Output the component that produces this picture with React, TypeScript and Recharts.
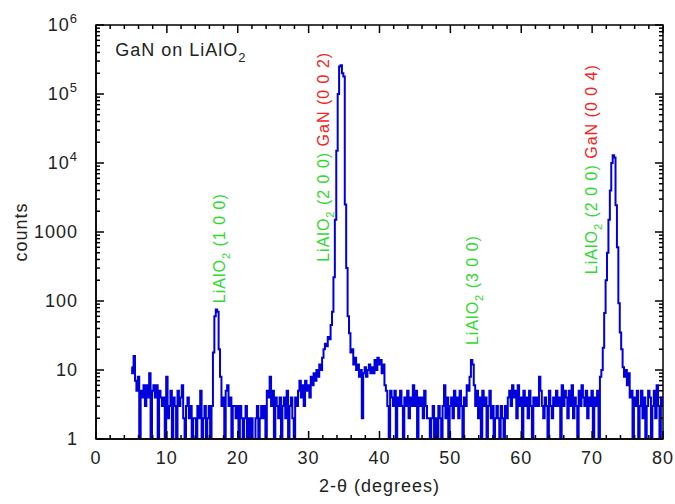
import React from "react";
import { LineChart, Line, XAxis, YAxis, ReferenceDot, ReferenceArea } from "recharts";

if (typeof document !== "undefined") document.body.style.margin = "0";

// scan grid (degrees) and measured counts, one row per 2 degrees
const startAngle = 5;
const angleStep = 0.2;
const counts = [
  11, 9, 16, 7, 5, 8, 1, 5, 4, 6,
  3, 6, 4, 9, 1, 5, 6, 4, 6, 1,
  5, 4, 3, 4, 1, 8, 2, 3, 5, 1,
  4, 3, 1, 5, 3, 4, 6, 2, 1, 3,
  4, 2, 3, 1, 2, 2, 1, 3, 2, 5,
  1, 2, 3, 1, 2, 3, 1, 3, 18, 60,
  75, 70, 20, 8, 3, 4, 1, 5, 6, 3,
  4, 1, 3, 3, 2, 3, 1, 3, 2, 1,
  2, 3, 1, 2, 1, 2, 1, 1, 2, 3,
  1, 2, 3, 2, 3, 1, 5, 4, 8, 3,
  5, 1, 4, 3, 2, 4, 1, 3, 4, 2,
  5, 1, 3, 4, 2, 1, 4, 3, 5, 7,
  4, 6, 3, 7, 5, 6, 4, 8, 6, 9,
  7, 10, 8, 12, 10, 15, 20, 24, 22, 30,
  28, 45, 70, 220, 1500, 15000, 100000, 250000, 260000, 200000,
  180000, 2500, 300, 60, 34, 18, 20, 12, 15, 10,
  12, 8, 10, 2, 9, 11, 8, 10, 12, 9,
  11, 9, 14, 10, 15, 12, 14, 9, 12, 6,
  5, 3, 1, 5, 4, 3, 5, 1, 4, 3,
  5, 3, 1, 4, 3, 5, 2, 4, 3, 6,
  3, 5, 1, 4, 3, 4, 2, 5, 3, 2,
  2, 1, 2, 3, 1, 2, 1, 3, 2, 1,
  3, 6, 2, 4, 1, 3, 4, 2, 5, 3,
  4, 2, 5, 3, 1, 4, 3, 6, 5, 8,
  14, 12, 6, 3, 5, 2, 4, 1, 5, 3,
  4, 1, 3, 5, 2, 3, 1, 2, 3, 2,
  1, 3, 2, 1, 3, 2, 4, 5, 3, 6,
  4, 5, 2, 6, 3, 4, 1, 5, 3, 4,
  2, 5, 3, 1, 4, 3, 4, 3, 8, 5,
  3, 2, 4, 3, 1, 5, 3, 2, 4, 3,
  5, 3, 4, 1, 6, 3, 5, 4, 2, 5,
  3, 6, 2, 4, 3, 1, 5, 3, 6, 4,
  3, 5, 2, 4, 3, 5, 1, 4, 3, 5,
  1, 8, 10, 21, 67, 200, 500, 1500, 4000, 10000,
  13000, 12000, 2450, 600, 93, 35, 20, 11, 8, 10,
  6, 9, 4, 5, 1, 4, 3, 5, 1, 3,
  5, 2, 4, 1, 3, 5, 4, 1, 3, 5,
  2, 6, 3, 1, 4, 3,
];

const xTicks = [0, 2, 4, 6, 8, 10, 12, 14, 16, 18, 20, 22, 24, 26, 28, 30, 32, 34, 36, 38,
  40, 42, 44, 46, 48, 50, 52, 54, 56, 58, 60, 62, 64, 66, 68, 70, 72, 74, 76, 78, 80];
const yDecades = [1, 10, 100, 1000, 10000, 100000, 1000000];
const yMinor = [2, 3, 4, 5, 6, 7, 8, 9];

const GREEN = "#2edb2e";
const RED = "#ff2020";

// peak annotations: anchor (angle, counts) is where the rotated text starts
const peakAngles = [18.2, 32.9, 53.9, 70.7];
const peakCounts = [93, 370, 23, 245];
const peakTexts = [
  [["LiAlO", GREEN, false], ["2", GREEN, true], [" (1 0 0)", GREEN, false]],
  [["LiAlO", GREEN, false], ["2", GREEN, true], [" (2 0 0) ", GREEN, false], ["GaN (0 0 2)", RED, false]],
  [["LiAlO", GREEN, false], ["2", GREEN, true], [" (3 0 0)", GREEN, false]],
  [["LiAlO", GREEN, false], ["2", GREEN, true], [" (2 0 0) ", GREEN, false], ["GaN (0 0 4)", RED, false]],
];

const W = 675;
const H = 504;
const M = { top: 25, right: 12, left: 0, bottom: 0 };
const Y_AXIS_W = 96;
const X_AXIS_H = 65;
const PLOT_W = W - M.left - M.right - Y_AXIS_W;
const PLOT_H = H - M.top - M.bottom - X_AXIS_H;
const FONT = "'Liberation Sans', Arial, sans-serif";

const data = counts.map((c, i) => ({ angle: +(startAngle + i * angleStep).toFixed(1), counts: c }));
const yTicks: number[] = [];
yDecades.forEach((d, i) => {
  yTicks.push(d);
  if (i < yDecades.length - 1) yMinor.forEach((m) => yTicks.push(d * m));
});

function XTick(props: any) {
  const { x, y, payload } = props;
  const v = payload.value;
  const major = v % 10 === 0;
  const len = major ? 8 : 4;
  return (
    <g>
      <line x1={x} y1={y} x2={x} y2={y - len} stroke="#000" strokeWidth={1.5} />
      <line x1={x} y1={y - PLOT_H} x2={x} y2={y - PLOT_H + len} stroke="#000" strokeWidth={1.5} />
      {major && (
        <text x={x} y={y + 25} textAnchor="middle" fontSize={18} letterSpacing={1} fontFamily={FONT} fill="#222">
          {v}
        </text>
      )}
    </g>
  );
}

function YTick(props: any) {
  const { x, y, payload } = props;
  const v = payload.value;
  const exp = Math.round(Math.log10(v));
  const major = Math.abs(Math.log10(v) - exp) < 1e-9;
  const len = major ? 8 : 4;
  let label: React.ReactNode = null;
  if (major) {
    label = exp < 4 ? (
      <text x={x - 18} y={y} dy="0.35em" textAnchor="end" fontSize={18} letterSpacing={1} fontFamily={FONT} fill="#222">
        {v}
      </text>
    ) : (
      <text x={x - 18} y={y} dy="0.35em" textAnchor="end" fontSize={18} letterSpacing={1} fontFamily={FONT} fill="#222">
        <tspan>10</tspan>
        <tspan dy={-8} fontSize={13}>{exp}</tspan>
      </text>
    );
  }
  return (
    <g>
      <line x1={x} y1={y} x2={x + len} y2={y} stroke="#000" strokeWidth={1.5} />
      <line x1={x + PLOT_W} y1={y} x2={x + PLOT_W - len} y2={y} stroke="#000" strokeWidth={1.5} />
      {label}
    </g>
  );
}

function PeakLabel({ cx, cy, parts }: any) {
  const spans: React.ReactNode[] = [];
  let shifted = false;
  parts.forEach((p: any, i: number) => {
    const [txt, color, sub] = p;
    let dy = 0;
    if (sub) { dy = 5; shifted = true; } else if (shifted) { dy = -5; shifted = false; }
    spans.push(
      <tspan key={i} fill={color} dy={dy} fontSize={sub ? 11 : 16}>{txt}</tspan>
    );
  });
  return (
    <text x={cx} y={cy} transform={`rotate(-90 ${cx} ${cy})`} fontFamily={FONT} fontSize={16}
      letterSpacing={1} style={{ whiteSpace: "pre" }}>
      {spans}
    </text>
  );
}

function TitleLabel({ cx, cy }: any) {
  return (
    <text x={cx} y={cy} fontFamily={FONT} fontSize={18} letterSpacing={1} fill="#222" style={{ whiteSpace: "pre" }}>
      <tspan>GaN on LiAlO</tspan>
      <tspan dy={6} fontSize={13}>2</tspan>
    </text>
  );
}

export default function App() {
  return (
    <LineChart width={W} height={H} data={data} margin={M}>
      <XAxis
        dataKey="angle"
        type="number"
        domain={[0, 80]}
        ticks={xTicks}
        interval={0}
        allowDataOverflow
        height={X_AXIS_H}
        tickSize={0}
        tickMargin={0}
        tickLine={false}
        axisLine={{ stroke: "#000", strokeWidth: 1.5 }}
        tick={<XTick />}
        label={{
          content: () => (
            <text x={M.left + Y_AXIS_W + PLOT_W / 2} y={492} textAnchor="middle" fontSize={18} letterSpacing={1} fontFamily={FONT} fill="#222">
              2-θ (degrees)
            </text>
          ),
        }}
      />
      <YAxis
        type="number"
        scale="log"
        domain={[1, 1000000]}
        ticks={yTicks}
        interval={0}
        allowDataOverflow
        width={Y_AXIS_W}
        tickSize={0}
        tickMargin={0}
        tickLine={false}
        axisLine={{ stroke: "#000", strokeWidth: 1.5 }}
        tick={<YTick />}
        label={{
          content: () => (
            <text x={27} y={M.top + PLOT_H / 2} transform={`rotate(-90 27 ${M.top + PLOT_H / 2})`} textAnchor="middle" fontSize={18} letterSpacing={1} fontFamily={FONT} fill="#222">
              counts
            </text>
          ),
        }}
      />
      <ReferenceArea x1={0} x2={80} y1={1} y2={1000000} fill="none" stroke="#000" strokeWidth={1.5} ifOverflow="visible" />
      <Line
        type="step"
        dataKey="counts"
        stroke="#0000dd"
        strokeWidth={2}
        dot={false}
        isAnimationActive={false}
      />
      <ReferenceDot x={2.7} y={355000} r={0} shape={(p: any) => <TitleLabel cx={p.cx} cy={p.cy} />} />
      {peakAngles.map((a, i) => (
        <ReferenceDot
          key={i}
          x={a}
          y={peakCounts[i]}
          r={0}
          shape={(p: any) => <PeakLabel cx={p.cx} cy={p.cy} parts={peakTexts[i]} />}
        />
      ))}
    </LineChart>
  );
}
